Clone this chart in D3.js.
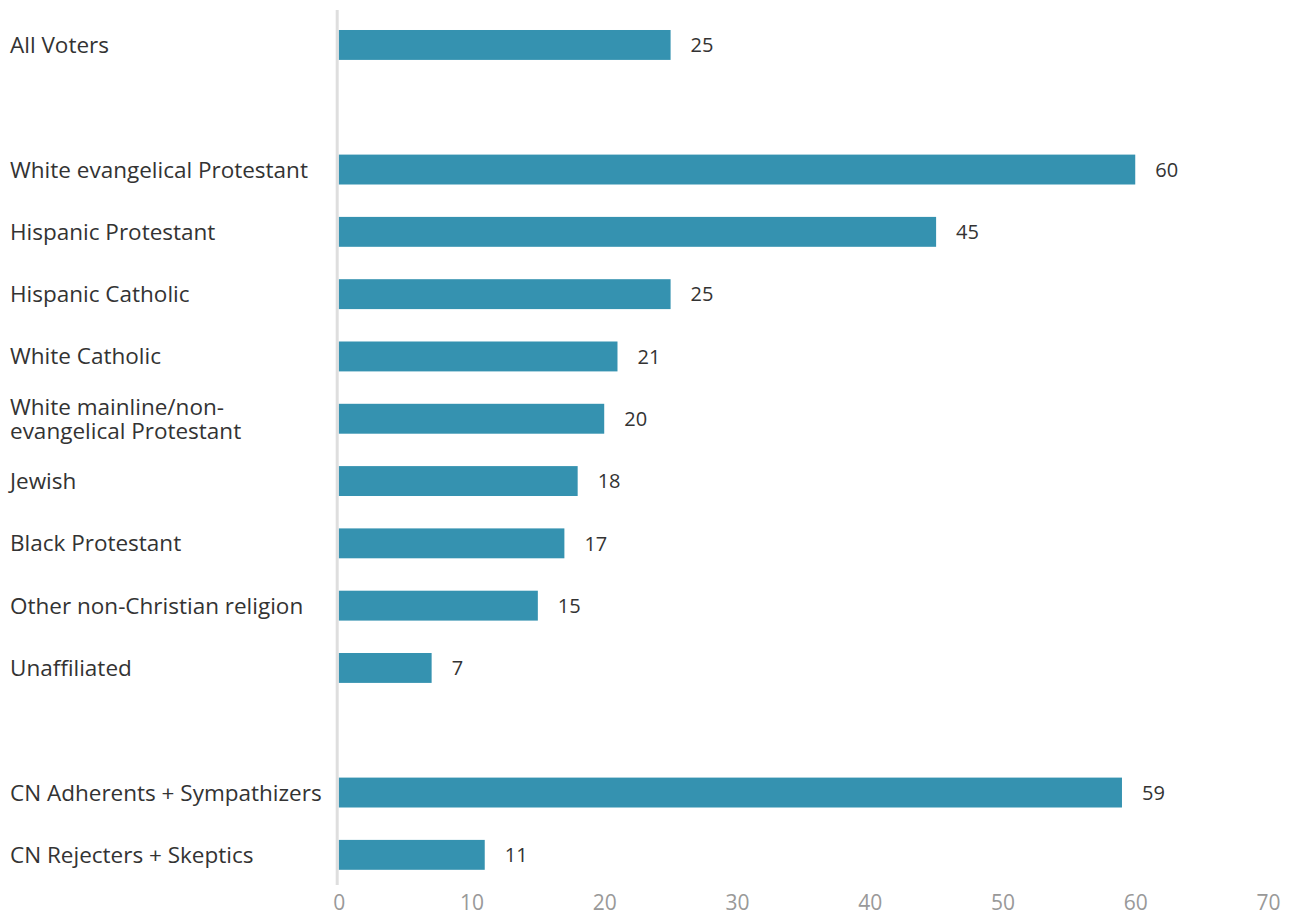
<!DOCTYPE html>
<html>
<head>
<meta charset="utf-8">
<script src="https://cdn.jsdelivr.net/npm/d3@7"></script>
<style>
  html, body { margin: 0; padding: 0; background: #fff; }
  svg { display: block; font-family: "Open Sans", sans-serif; }
</style>
</head>
<body>
<svg id="chart" width="1294" height="915"></svg>
<script>
// Row labels; empty strings are spacer rows between groups
const categories = [
  "All Voters",
  "",
  "White evangelical Protestant",
  "Hispanic Protestant",
  "Hispanic Catholic",
  "White Catholic",
  "White mainline/non-\nevangelical Protestant",
  "Jewish",
  "Black Protestant",
  "Other non-Christian religion",
  "Unaffiliated",
  "",
  "CN Adherents + Sympathizers",
  "CN Rejecters + Skeptics"
];
const values = [25, null, 60, 45, 25, 21, 20, 18, 17, 15, 7, null, 59, 11];
const tickValues = [0, 10, 20, 30, 40, 50, 60, 70];

const rows = categories.map((label, i) => ({ i, label, value: values[i] }));

const svg = d3.select("#chart");

const x = d3.scaleLinear().domain([0, 70]).range([338.7, 1268]);
const y = d3.scaleBand()
  .domain(rows.map(d => d.i))
  .range([13.8, 886])
  .paddingInner(0.52)
  .paddingOuter(0.26);

// Bars
svg.append("g")
  .selectAll("rect")
  .data(rows.filter(d => d.value != null))
  .join("rect")
  .attr("x", x(0))
  .attr("y", d => y(d.i))
  .attr("width", d => x(d.value) - x(0))
  .attr("height", y.bandwidth())
  .attr("fill", "#3592b0");

// Baseline
svg.append("line")
  .attr("x1", 337.2).attr("x2", 337.2)
  .attr("y1", 10).attr("y2", 885)
  .attr("stroke", "#dedede")
  .attr("stroke-width", 3);

// Value labels
svg.append("g")
  .selectAll("text")
  .data(rows.filter(d => d.value != null))
  .join("text")
  .attr("x", d => x(d.value) + 20)
  .attr("y", d => y(d.i) + y.bandwidth() / 2)
  .attr("dy", "0.36em")
  .attr("font-size", 20)
  .attr("fill", "#333")
  .text(d => d.value);

// Category labels (multi-line where needed)
const labels = svg.append("g")
  .selectAll("text")
  .data(rows.filter(d => d.label))
  .join("text")
  .attr("x", 10)
  .attr("y", d => y(d.i) + y.bandwidth() / 2)
  .attr("font-size", 22.5)
  .attr("fill", "#333");

labels.each(function(d) {
  const lines = d.label.split("\n");
  const lh = 24;
  const start = -(lines.length - 1) * lh / 2;
  d3.select(this).selectAll("tspan")
    .data(lines)
    .join("tspan")
    .attr("x", 10)
    .attr("dy", (l, k) => k === 0 ? (start + 8) + "px" : lh + "px")
    .text(l => l);
});

// X axis
const xAxis = d3.axisBottom(x)
  .tickValues(tickValues)
  .tickSize(0)
  .tickPadding(0)
  .tickFormat(d3.format("d"));

const gx = svg.append("g")
  .attr("transform", "translate(0,910)")
  .call(xAxis);
gx.select(".domain").remove();
gx.selectAll("text")
  .attr("dy", 0)
  .attr("font-family", "Open Sans, sans-serif")
  .attr("font-size", 21)
  .attr("fill", "#999");
</script>
</body>
</html>
